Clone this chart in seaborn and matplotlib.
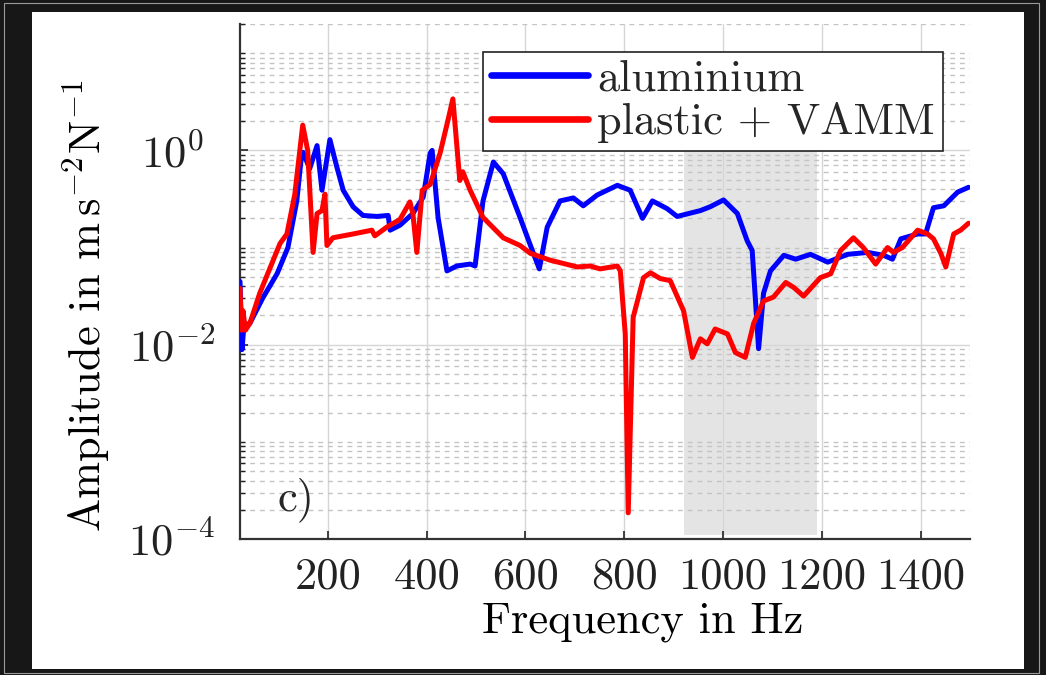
import numpy as np
import pandas as pd
import matplotlib
matplotlib.use("Agg")
import matplotlib.pyplot as plt
import seaborn as sns
from matplotlib.ticker import FixedLocator, LogLocator, NullFormatter
from matplotlib.patches import Rectangle

# ---------------- data ----------------
alu_freq = [22, 26, 30, 42, 68, 97, 119, 137, 147, 150, 163, 178, 188, 204, 218, 231,
            251, 271, 299, 322, 326, 346, 372, 393, 407, 411, 423, 441, 461, 488, 498,
            514, 535, 555, 589, 616, 628, 644, 670, 697, 717, 745, 786, 812, 837, 857,
            887, 907, 954, 974, 1001, 1029, 1049, 1059, 1072, 1082, 1096, 1123, 1147,
            1177, 1212, 1252, 1293, 1325, 1343, 1360, 1394, 1410, 1426, 1447, 1475, 1497]
alu_amp = [0.0447, 0.0089, 0.0158, 0.0166, 0.0302, 0.0537, 0.100, 0.302, 0.933, 0.955,
           0.646, 1.12, 0.389, 1.29, 0.676, 0.389, 0.263, 0.214, 0.209, 0.214, 0.151,
           0.170, 0.224, 0.331, 0.933, 1.00, 0.204, 0.0575, 0.0646, 0.0676, 0.0646,
           0.302, 0.759, 0.575, 0.204, 0.0871, 0.0603, 0.162, 0.302, 0.324, 0.269,
           0.347, 0.437, 0.389, 0.200, 0.302, 0.251, 0.209, 0.240, 0.263, 0.309, 0.224,
           0.117, 0.0933, 0.0091, 0.0339, 0.0575, 0.0832, 0.0759, 0.0851, 0.0708,
           0.0851, 0.0891, 0.0832, 0.0759, 0.123, 0.138, 0.138, 0.257, 0.269, 0.372, 0.417]

vamm_freq = [22, 25, 28, 33, 42, 62, 103, 117, 133, 149, 159, 170, 178, 188, 194, 198,
             210, 251, 289, 295, 319, 346, 366, 372, 380, 391, 407, 427, 443, 453, 467,
             473, 488, 514, 555, 589, 610, 650, 705, 731, 751, 786, 792, 802, 808, 818,
             839, 853, 873, 893, 920, 938, 954, 968, 984, 1009, 1025, 1045, 1062, 1082,
             1102, 1127, 1143, 1163, 1197, 1218, 1238, 1264, 1284, 1309, 1333, 1345,
             1363, 1394, 1414, 1426, 1441, 1451, 1467, 1481, 1497]
vamm_amp = [0.038, 0.0141, 0.0224, 0.0141, 0.0166, 0.0339, 0.110, 0.138, 0.355, 1.82,
            1.00, 0.0891, 0.224, 0.240, 0.355, 0.105, 0.126, 0.138, 0.151, 0.132, 0.162,
            0.195, 0.295, 0.224, 0.0891, 0.389, 0.447, 0.933, 2.04, 3.39, 0.490, 0.603,
            0.389, 0.204, 0.126, 0.105, 0.0871, 0.0741, 0.0631, 0.0646, 0.0603, 0.0646,
            0.0575, 0.0129, 0.000186, 0.0191, 0.049, 0.055, 0.0479, 0.0457, 0.0224,
            0.0074, 0.0115, 0.0102, 0.0145, 0.0129, 0.0083, 0.0074, 0.0166, 0.0282,
            0.0309, 0.0437, 0.0389, 0.0316, 0.049, 0.0537, 0.0933, 0.126, 0.100, 0.0676,
            0.100, 0.0891, 0.100, 0.151, 0.138, 0.123, 0.0871, 0.0631, 0.138, 0.151, 0.178]

series_names = ["aluminium", "plastic + VAMM"]
series_colors = ["#0000ff", "#ff0000"]
band_freq = [920, 1190]
band_amp = [1.1e-4, 1.0]

xticks = [200, 400, 600, 800, 1000, 1200, 1400]
xtick_labels = ["200", "400", "600", "800", "1000", "1200", "1400"]
yticks = [1e-4, 1e-2, 1e0]
ytick_labels = [r"$10^{-4}$", r"$10^{-2}$", r"$10^{0}$"]

# ---------------- styling ----------------
sns.set_theme(style="white")
plt.rcParams["font.family"] = ["cmr10"]
plt.rcParams["mathtext.fontset"] = "cm"
plt.rcParams["axes.formatter.use_mathtext"] = True

W, H = 1046, 675
fig = plt.figure(figsize=(W / 100, H / 100), dpi=100, facecolor="#171717")
# white slide panel and thin outer frame line
fig.add_artist(Rectangle((32 / W, 6 / H), 992 / W, 657 / H, transform=fig.transFigure,
                         facecolor="white", edgecolor="none", zorder=0))
fig.add_artist(Rectangle((4 / W, 2 / H), 1035 / W, 670 / H, transform=fig.transFigure,
                         facecolor="none", edgecolor="#9a9a9a", lw=0.8, zorder=0))

ax = fig.add_axes([240 / W, 136 / H, 730 / W, 515 / H])
ax.set_facecolor("none")

df = pd.concat([
    pd.DataFrame({"freq": alu_freq, "amp": alu_amp, "series": series_names[0]}),
    pd.DataFrame({"freq": vamm_freq, "amp": vamm_amp, "series": series_names[1]}),
], ignore_index=True)

ax.fill_between(band_freq, band_amp[0], band_amp[1], color="#e4e4e4", lw=0, zorder=0.3)

sns.lineplot(data=df, x="freq", y="amp", hue="series", hue_order=series_names,
             palette=dict(zip(series_names, series_colors)), estimator=None, sort=False,
             lw=3.6, ax=ax, zorder=3, solid_joinstyle="round", solid_capstyle="round")

ax.set_yscale("log")
ax.set_xlim(22, 1500)
ax.set_ylim(1e-4, 20)

ax.set_xticks(xticks, labels=xtick_labels)
ax.yaxis.set_major_locator(FixedLocator(yticks))
ax.set_yticks(yticks, labels=ytick_labels)
ax.yaxis.set_minor_locator(LogLocator(base=10, subs=np.arange(1, 10), numticks=100))
ax.yaxis.set_minor_formatter(NullFormatter())

ax.set_axisbelow(True)
ax.grid(which="major", color="#d6d6d6", lw=1.0, ls="-")
ax.grid(which="minor", axis="y", color="#c4c4c4", lw=1.0, ls=(0, (3.5, 3.5)))

ax.tick_params(which="both", direction="in", top=False, right=False, left=True,
               bottom=True, colors="#222222")
ax.tick_params(which="major", length=6, width=1.2)
ax.tick_params(which="minor", length=3.5, width=1.0)
ax.tick_params(axis="x", labelsize=32, pad=13)
ax.tick_params(axis="y", labelsize=32, pad=49)
for lab in ax.get_yticklabels():
    lab.set_horizontalalignment("center")

for s in ["top", "right"]:
    ax.spines[s].set_visible(False)
for s in ["left", "bottom"]:
    ax.spines[s].set_color("#333333")
    ax.spines[s].set_linewidth(1.6)

ax.set_xlabel("Frequency in Hz", fontsize=32, color="black")
ax.xaxis.set_label_coords(0.552, -0.122)
ax.set_ylabel(r"Amplitude in m$\,$s$^{-2}$N$^{-1}$", fontsize=32, color="black")
ax.yaxis.set_label_coords(-0.175, 0.454)

ax.text(0.051, 0.056, "c)", transform=ax.transAxes, fontsize=32, va="baseline", ha="left")

handles, labels = ax.get_legend_handles_labels()
leg = ax.legend(handles, labels, loc="upper right", bbox_to_anchor=(0.963, 0.946),
                fontsize=32, frameon=True, fancybox=False, edgecolor="#222222",
                framealpha=1, borderpad=0.18, handlelength=2.2, handletextpad=0.2,
                labelspacing=0.05, borderaxespad=0)
leg.get_frame().set_linewidth(1.2)
for h in leg.get_lines():
    h.set_linewidth(4.8)

fig.savefig("out.png", dpi=100, facecolor=fig.get_facecolor())
